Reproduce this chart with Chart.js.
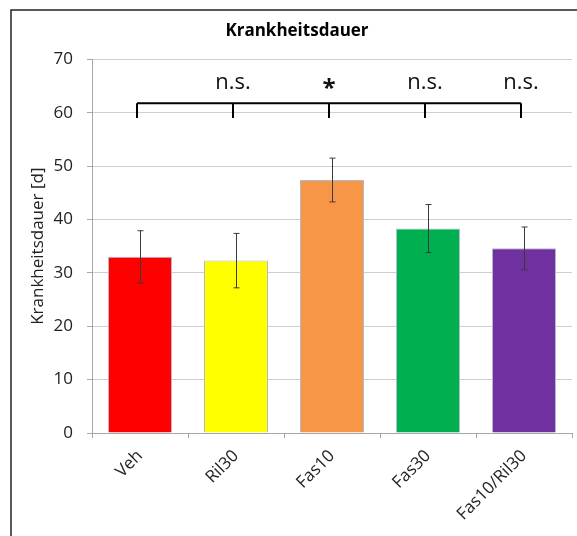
<!DOCTYPE html>
<html>
<head>
<meta charset="utf-8">
<script src="https://cdn.jsdelivr.net/npm/chart.js@4/dist/chart.umd.min.js"></script>
<style>
  html, body { margin: 0; padding: 0; background: #fff; }
</style>
</head>
<body>
<canvas id="chart" width="577" height="536"></canvas>
<script>
const categories = ["Veh", "Ril30", "Fas10", "Fas30", "Fas10/Ril30"];
const meanDays = [33.0, 32.3, 47.4, 38.3, 34.6];
const errDays = [4.9, 5.1, 4.1, 4.5, 4.0];
const barColors = ["#ff0000", "#ffff00", "#f79646", "#00b050", "#7030a0"];
const sigLabels = ["", "n.s.", "*", "n.s.", "n.s."];
const yTicks = [0, 10, 20, 30, 40, 50, 60, 70];
const bracketTop = 61.8;
const bracketFoot = 59;

const FONT = "'Open Sans', 'Noto Sans', sans-serif";

// frame around the chart (left + top only, like the crop)
const framePlugin = {
  id: "frame",
  afterDraw(chart) {
    const ctx = chart.ctx;
    ctx.save();
    ctx.strokeStyle = "#222";
    ctx.lineWidth = 1.5;
    ctx.beginPath();
    ctx.moveTo(11, chart.height);
    ctx.lineTo(11, 10);
    ctx.lineTo(chart.width, 10);
    ctx.stroke();
    ctx.restore();
  }
};

const errorBars = {
  id: "errorBars",
  afterDatasetsDraw(chart) {
    const ctx = chart.ctx;
    const y = chart.scales.y;
    const meta = chart.getDatasetMeta(0);
    ctx.save();
    ctx.strokeStyle = "#3a3a3a";
    ctx.lineWidth = 1;
    meta.data.forEach((bar, i) => {
      const x = Math.round(bar.x) + 0.5;
      const hi = y.getPixelForValue(meanDays[i] + errDays[i]);
      const lo = y.getPixelForValue(meanDays[i] - errDays[i]);
      ctx.beginPath();
      ctx.moveTo(x, hi); ctx.lineTo(x, lo);
      ctx.moveTo(x - 3, hi); ctx.lineTo(x + 3, hi);
      ctx.moveTo(x - 3, lo); ctx.lineTo(x + 3, lo);
      ctx.stroke();
    });
    ctx.restore();
  }
};

const bracket = {
  id: "bracket",
  afterDatasetsDraw(chart) {
    const ctx = chart.ctx;
    const y = chart.scales.y;
    const meta = chart.getDatasetMeta(0);
    const top = y.getPixelForValue(bracketTop);
    const foot = y.getPixelForValue(bracketFoot);
    const xs = meta.data.map(b => Math.round(b.x) - 3);
    ctx.save();
    ctx.strokeStyle = "#000";
    ctx.lineWidth = 2;
    ctx.beginPath();
    ctx.moveTo(xs[0], top);
    ctx.lineTo(xs[xs.length - 1], top);
    xs.forEach(x => { ctx.moveTo(x, top); ctx.lineTo(x, foot); });
    ctx.stroke();
    ctx.fillStyle = "#111";
    ctx.textAlign = "center";
    sigLabels.forEach((s, i) => {
      if (!s) return;
      if (s === "*") {
        ctx.font = "bold 24px " + FONT;
        ctx.textBaseline = "middle";
        ctx.fillText(s, xs[i], top - 14);
      } else {
        ctx.font = "22px " + FONT;
        ctx.textBaseline = "alphabetic";
        ctx.fillText(s, xs[i], top - 14);
      }
    });
    ctx.restore();
  }
};

new Chart(document.getElementById("chart"), {
  type: "bar",
  data: {
    labels: categories,
    datasets: [{
      data: meanDays,
      backgroundColor: barColors,
      borderColor: "rgba(170,180,200,0.9)",
      borderWidth: 1,
      barPercentage: 0.667,
      categoryPercentage: 1
    }]
  },
  options: {
    responsive: false,
    animation: false,
    layout: { padding: { left: 22, right: 5, top: 0, bottom: 0 } },
    plugins: {
      legend: { display: false },
      tooltip: { enabled: false },
      title: {
        display: true,
        text: "Krankheitsdauer",
        color: "#000",
        font: { family: FONT, size: 17, weight: "bold", lineHeight: 1.2 },
        padding: { top: 21, bottom: 18 }
      }
    },
    scales: {
      x: {
        grid: { drawOnChartArea: false, drawTicks: true, tickLength: 5, color: "#a6a6a6" },
        border: { color: "#a6a6a6", width: 1 },
        ticks: {
          color: "#222",
          font: { family: FONT, size: 17 },
          minRotation: 45,
          maxRotation: 45,
          padding: 8
        },
        afterFit(scale) { scale.height = 103; }
      },
      y: {
        min: 0,
        max: 70,
        afterBuildTicks(scale) { scale.ticks = yTicks.map(v => ({ value: v })); },
        grid: { color: "#cfcfcf", tickColor: "#a6a6a6", tickLength: 5 },
        border: { color: "#a6a6a6", width: 1 },
        ticks: {
          color: "#222",
          font: { family: FONT, size: 17 },
          padding: 14
        },
        title: {
          display: true,
          text: "Krankheitsdauer [d]",
          color: "#222",
          font: { family: FONT, size: 17 },
          padding: { top: 6, bottom: 0 }
        },
        afterFit(scale) { scale.width = 70; }
      }
    }
  },
  plugins: [framePlugin, errorBars, bracket]
});
</script>
</body>
</html>
